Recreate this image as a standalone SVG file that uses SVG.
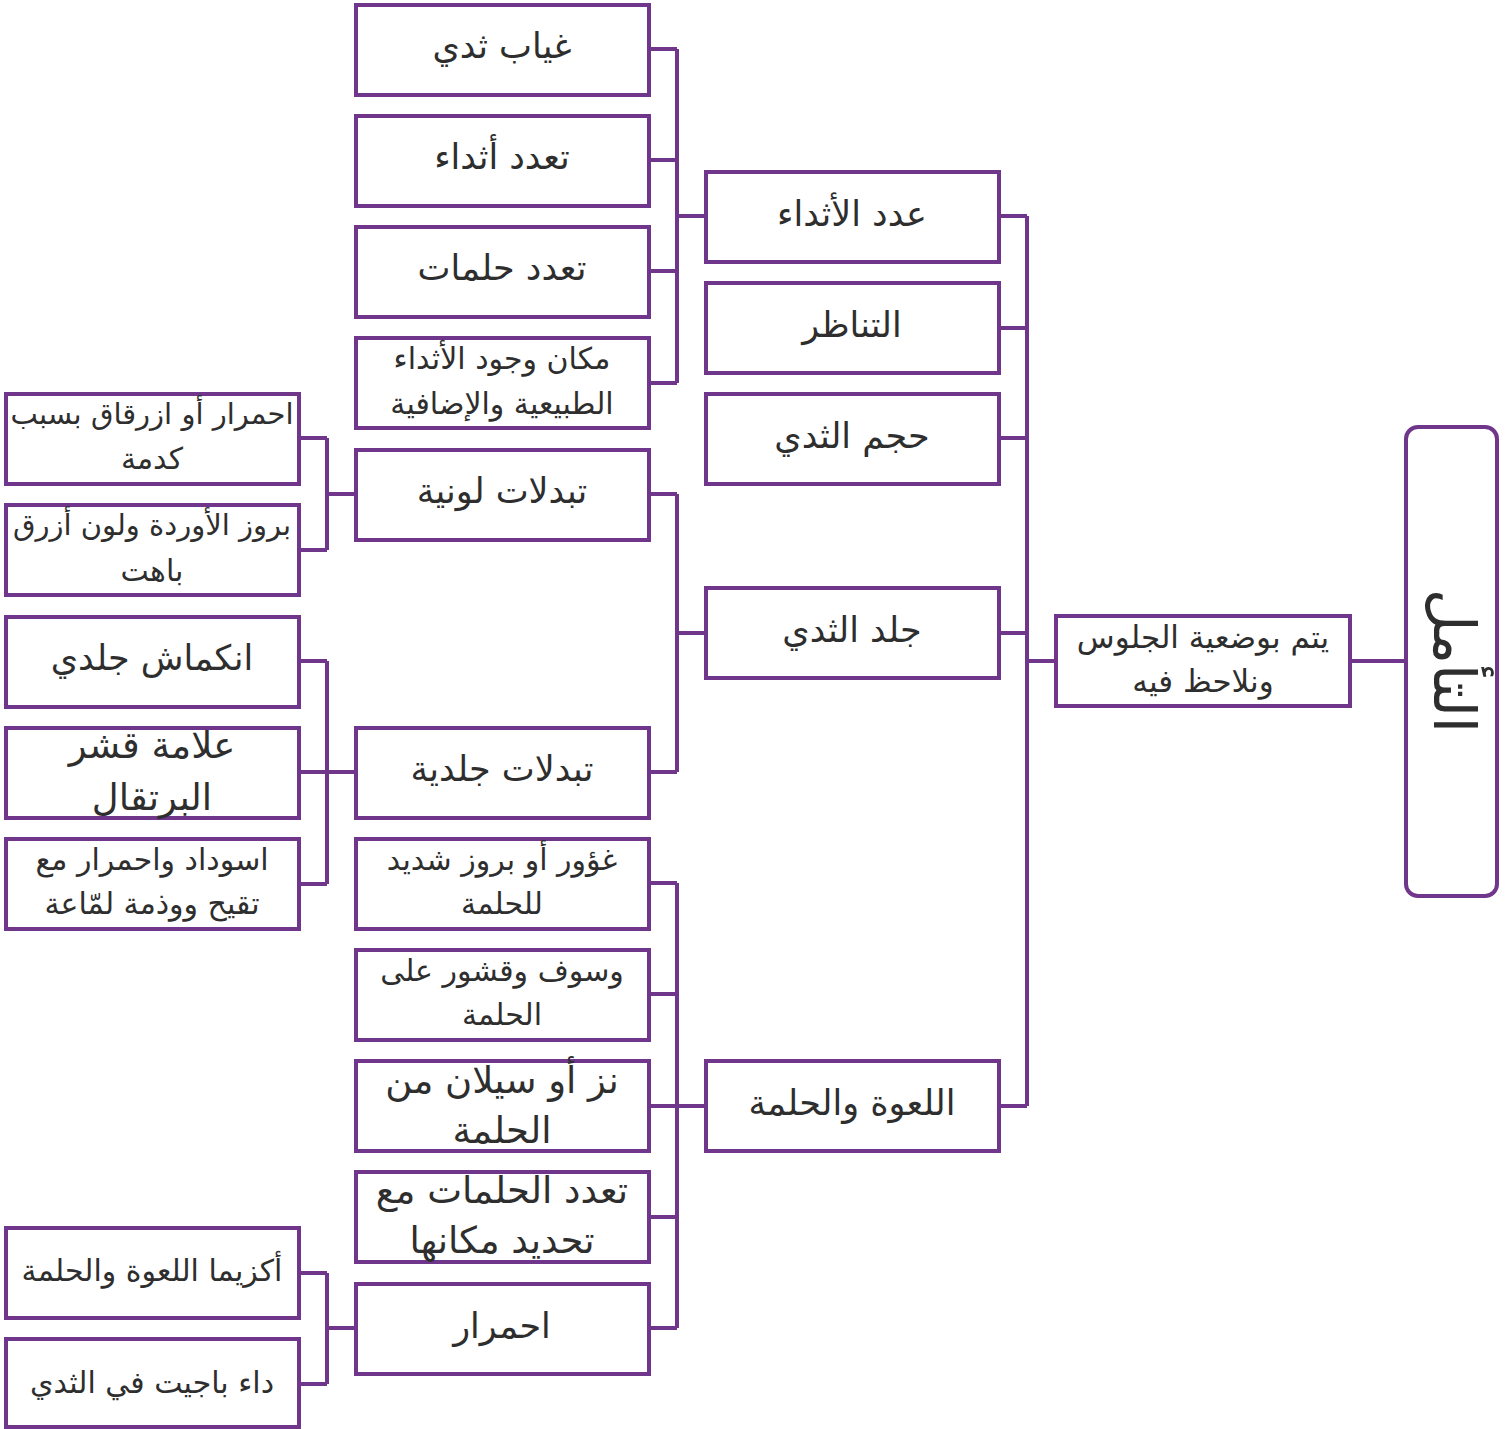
<svg xmlns="http://www.w3.org/2000/svg" width="1505" height="1429" viewBox="0 0 1505 1429">
<style>
.n{fill:#fff;stroke:#70368b;stroke-width:4}
.c{fill:none;stroke:#70368b;stroke-width:4;stroke-linejoin:round}
text{font-family:"DejaVu Sans",sans-serif;fill:#2e2e2e;text-anchor:middle;dominant-baseline:central}
.t1{font-size:35px}
.t2{font-size:30px}
.t3{font-size:37px}
.td{font-size:31px}
</style>
<rect width="1505" height="1429" fill="#fff"/>
<g id="connectors">
<path class="c" d="M1350 661H1406"/>
<path class="c" d="M1027 216V1106M999 216H1027M999 328H1027M999 438H1027M999 633H1027M999 1106H1027M1027 661H1056"/>
<path class="c" d="M677 49V383M649 49H677M649 160H677M649 271H677M649 383H677M677 216H706"/>
<path class="c" d="M677 494V772M649 494H677M649 772H677M677 633H706"/>
<path class="c" d="M677 883V1328M649 883H677M649 994H677M649 1106H677M649 1217H677M649 1328H677M677 1106H706"/>
<path class="c" d="M327 438V550M299 438H327M299 550H327M327 494H356"/>
<path class="c" d="M327 661V884M299 661H327M299 772H327M299 884H327M327 772H356"/>
<path class="c" d="M327 1273V1384M299 1273H327M299 1384H327M327 1328H356"/>
</g>
<g id="root"><rect class="n" x="1406" y="427" width="91" height="469" rx="12"/><text style="font-size:58px" transform="translate(1454 661) rotate(90)">التأمل</text></g>
<g id="d1"><rect class="n" x="1056" y="616" width="294" height="90"/><text class="td" x="1203" y="637">يتم بوضعية الجلوس</text><text class="td" x="1203" y="681">ونلاحظ فيه</text></g>
<g id="c1"><rect class="n" x="706" y="172" width="293" height="90"/><text class="t1" x="852" y="214">عدد الأثداء</text></g>
<g id="c2"><rect class="n" x="706" y="283" width="293" height="90"/><text class="t1" x="852" y="325">التناظر</text></g>
<g id="c3"><rect class="n" x="706" y="394" width="293" height="90"/><text class="t1" x="852" y="436">حجم الثدي</text></g>
<g id="c4"><rect class="n" x="706" y="588" width="293" height="90"/><text class="t1" x="852" y="630">جلد الثدي</text></g>
<g id="c5"><rect class="n" x="706" y="1061" width="293" height="90"/><text class="t1" x="852" y="1103">اللعوة والحلمة</text></g>
<g id="b1"><rect class="n" x="356" y="5" width="293" height="90"/><text class="t1" x="502" y="46">غياب ثدي</text></g>
<g id="b2"><rect class="n" x="356" y="116" width="293" height="90"/><text class="t1" x="502" y="157">تعدد أثداء</text></g>
<g id="b3"><rect class="n" x="356" y="227" width="293" height="90"/><text class="t1" x="502" y="268">تعدد حلمات</text></g>
<g id="b4"><rect class="n" x="356" y="338" width="293" height="90"/><text class="t2" x="502" y="358">مكان وجود الأثداء</text><text class="t2" x="502" y="403">الطبيعية والإضافية</text></g>
<g id="b5"><rect class="n" x="356" y="450" width="293" height="90"/><text class="t1" x="502" y="491">تبدلات لونية</text></g>
<g id="b6"><rect class="n" x="356" y="728" width="293" height="90"/><text class="t1" x="502" y="769">تبدلات جلدية</text></g>
<g id="b7"><rect class="n" x="356" y="839" width="293" height="90"/><text class="t2" x="502" y="859">غؤور أو بروز شديد</text><text class="t2" x="502" y="903">للحلمة</text></g>
<g id="b8"><rect class="n" x="356" y="950" width="293" height="90"/><text class="t2" x="502" y="970">وسوف وقشور على</text><text class="t2" x="502" y="1014">الحلمة</text></g>
<g id="b9"><rect class="n" x="356" y="1061" width="293" height="90"/><text class="t3" x="502" y="1080">نز أو سيلان من</text><text class="t3" x="502" y="1130">الحلمة</text></g>
<g id="b10"><rect class="n" x="356" y="1172" width="293" height="90"/><text class="t3" x="502" y="1190">تعدد الحلمات مع</text><text class="t3" x="502" y="1240">تحديد مكانها</text></g>
<g id="b11"><rect class="n" x="356" y="1284" width="293" height="90"/><text class="t1" x="502" y="1326">احمرار</text></g>
<g id="a1"><rect class="n" x="6" y="394" width="293" height="90"/><text class="t2" style="font-size:29px" x="152" y="414">احمرار أو ازرقاق بسبب</text><text class="t2" x="152" y="458">كدمة</text></g>
<g id="a2"><rect class="n" x="6" y="505" width="293" height="90"/><text class="t2" style="font-size:29px" x="152" y="525">بروز الأوردة ولون أزرق</text><text class="t2" x="152" y="570">باهت</text></g>
<g id="a3"><rect class="n" x="6" y="617" width="293" height="90"/><text class="t1" x="152" y="658">انكماش جلدي</text></g>
<g id="a4"><rect class="n" x="6" y="728" width="293" height="90"/><text class="t3" x="152" y="745">علامة قشر</text><text class="t3" x="152" y="797">البرتقال</text></g>
<g id="a5"><rect class="n" x="6" y="839" width="293" height="90"/><text class="t2" x="152" y="859">اسوداد واحمرار مع</text><text class="t2" x="152" y="903">تقيح ووذمة لمّاعة</text></g>
<g id="a6"><rect class="n" x="6" y="1228" width="293" height="90"/><text class="t2" x="152" y="1270">أكزيما اللعوة والحلمة</text></g>
<g id="a7"><rect class="n" x="6" y="1339" width="293" height="88"/><text class="t2" x="152" y="1382">داء باجيت في الثدي</text></g>
</svg>
